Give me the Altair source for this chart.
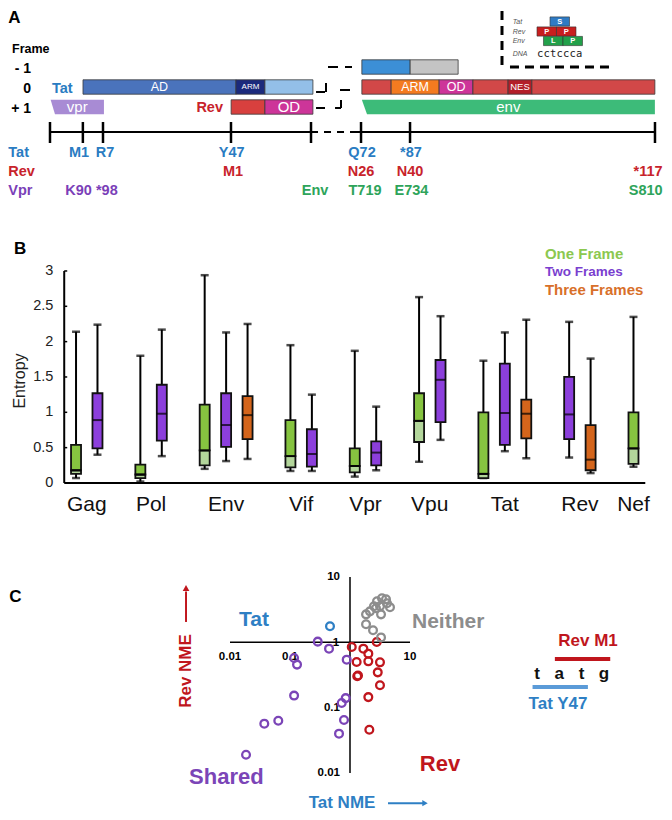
import altair as alt
import pandas as pd

FONT = "Liberation Sans"
W = 656
HA, HB, HC = 192, 320, 292

TAT_C, REV_C, VPR_C, ENV_C = "#2a7cc2", "#c8232b", "#7b3fb8", "#2ea45a"

# ====================== Panel A : gene map (schematic units = Tat codons, right block past break) ======================
seg_part = ["Tat AD", "Tat ARM", "Tat C", "Rev N", "Rev OD", "Tat ex2", "Tat tail", "Rev", "Rev ARM", "Rev OD", "Rev", "Rev NES", "Rev"]
seg_start = [1.0, 48.5, 57.5, 47.0, 57.5, 87.6, 102.6, 87.6, 96.7, 111.6, 122.1, 133.0, 140.4]
seg_end = [48.5, 57.5, 72.4, 57.5, 72.4, 102.6, 117.5, 96.7, 111.6, 122.1, 133.0, 140.4, 178.6]
seg_frame = [0, 0, 0, 1, 1, -1, -1, 0, 0, 0, 0, 0, 0]
seg_label = ["AD", "ARM", "", "", "OD", "", "", "", "ARM", "OD", "", "NES", ""]
part_names = ["Tat AD", "Tat ARM", "Tat C", "Rev N", "Rev OD", "Tat ex2", "Tat tail", "Rev", "Rev ARM", "Rev NES"]
part_colors = ["#4a73bc", "#1b2a7c", "#93bfe8", "#d8403e", "#cd3599", "#3c8fd6", "#c4c4c4", "#d24848", "#f47b20", "#b31e29"]

trap_name = ["vpr", "env"]
trap_frame = [1, 1]
trap_top_start = [-9.05, 87.6]
trap_bottom_start = [-7.7, 89.2]
trap_end = [7.5, 178.6]
trap_colors = ["#a88bd4", "#3dbb79"]

conn_x1 = [77.08, 82.36, 73.37, 76.47, 80.82, 73.37, 81.13, 79.27]
conn_x2 = [80.19, 84.54, 76.16, 76.47, 83.92, 76.16, 81.13, 81.13]
conn_f1 = [-1.0, -1.0, 0.25, -0.2, 0.15, 1.05, 0.65, 1.05]
conn_f2 = [-1.0, -1.0, 0.25, 0.25, 0.15, 1.05, 1.05, 1.05]

line_solid_from = [-9.25, 84.54]
line_solid_to = [71.81, 178.63]
line_dash_from = [71.81]
line_dash_to = [84.54]
tick_u = [-9.25, 0.96, 7.21, 46.96, 71.81, 87.34, 102.56, 178.63]

# residue labels: (text, position, row protein)
res_text = ["M1", "R7", "Y47", "Q72", "*87", "M1", "N26", "N40", "K90 *98", "Env", "T719", "E734"]
res_u = [-0.24, 7.83, 47.18, 87.65, 102.86, 47.58, 87.34, 102.56, 3.64, 73.05, 88.58, 103.0]
res_row = ["Tat", "Tat", "Tat", "Tat", "Tat", "Rev", "Rev", "Rev", "Vpr", "Env", "Env", "Env"]
res_end_text = ["*117", "S810"]
res_end_row = ["Rev", "Env"]
row_names = ["Tat", "Rev", "Vpr"]
row_level = {"Tat": 3.3, "Rev": 4.25, "Vpr": 5.2, "Env": 5.2}
row_colors = {"Tat": TAT_C, "Rev": REV_C, "Vpr": VPR_C, "Env": ENV_C}

frame_text = ["- 1", "0", "+ 1"]
frame_vals = [-1, 0, 1]

# inset (codon overlap)
dna = "cctccca"
codon_prot = ["Tat", "Rev", "Rev", "Env", "Env"]
codon_start = [2, 0, 3, 1, 4]
codon_aa = ["S", "P", "P", "L", "P"]
inset_rows = ["Tat", "Rev", "Env", "DNA"]
inset_row_f = {"Tat": -3.275, "Rev": -2.775, "Env": -2.3, "DNA": -1.65}
inset_colors = {"Tat": "#2f7bc4", "Rev": "#c81e1e", "Env": "#22a04a"}
NT0, NTW = 141.99, 2.0186

xa = alt.Scale(domain=[-22.29, 181.43], nice=False, zero=False)
ya = alt.Scale(domain=[-3.9, 5.7], reverse=True, nice=False, zero=False)


def X(f, sc):
    return alt.X(f"{f}:Q", scale=sc, axis=None)


def Y(f, sc):
    return alt.Y(f"{f}:Q", scale=sc, axis=None)


def text_layer(df, x, y, sx, sy, size, color="#000", align="center", weight="bold",
               angle=0, font=FONT, fstyle="normal", text="t"):
    return alt.Chart(df).mark_text(fontSize=size, font=font, fontWeight=weight, fontStyle=fstyle,
                                   align=align, baseline="middle", angle=angle, color=color).encode(
        x=X(x, sx), y=Y(y, sy), text=f"{text}:N")


segs = pd.DataFrame({"part": seg_part, "s": seg_start, "e": seg_end, "frame": seg_frame, "label": seg_label})
segs["y0"] = segs["frame"] - 0.36
segs["y1"] = segs["frame"] + 0.36
segs["mid"] = (segs["s"] + segs["e"]) / 2

bars_a = alt.Chart(segs).mark_rect(stroke="#3a3a3a", strokeWidth=0.8).encode(
    x=X("s", xa), x2="e:Q", y=Y("y0", ya), y2="y1:Q",
    color=alt.Color("part:N", scale=alt.Scale(domain=part_names, range=part_colors), legend=None))

trap_rows = []
for n, fr, ts, bs, e in zip(trap_name, trap_frame, trap_top_start, trap_bottom_start, trap_end):
    trap_rows.append({"name": n, "f": fr - 0.36, "s": ts, "e": e})
    trap_rows.append({"name": n, "f": fr + 0.36, "s": bs, "e": e})
traps = pd.DataFrame(trap_rows)
trap_layer = alt.Chart(traps).mark_area(orient="horizontal").encode(
    y=Y("f", ya), x=X("s", xa), x2="e:Q", detail="name:N",
    color=alt.Color("name:N", scale=alt.Scale(domain=trap_name, range=trap_colors), legend=None))
trap_lab = pd.DataFrame({"t": trap_name, "u": [(a + b) / 2 for a, b in zip(trap_top_start, trap_end)], "f": trap_frame})

lab_big = text_layer(segs[(segs.label == "OD") & (segs.frame == 1)], "mid", "frame", xa, ya, 15, "white",
                     weight="normal", text="label")
lab_big2 = text_layer(trap_lab, "u", "f", xa, ya, 15, "white", weight="normal")
lab_mid = text_layer(segs[(segs.label == "AD") | ((segs.label.isin(["ARM", "OD"])) & (segs.s > 80))],
                     "mid", "frame", xa, ya, 12.5, "white", weight="normal", text="label")
lab_arm = text_layer(segs[(segs.label == "ARM") & (segs.s < 80)], "mid", "frame", xa, ya, 8, "white",
                     weight="normal", text="label")
lab_nes = text_layer(segs[segs.label == "NES"], "mid", "frame", xa, ya, 9.5, "white", weight="normal", text="label")

conn = pd.DataFrame({"x1": conn_x1, "x2": conn_x2, "f1": conn_f1, "f2": conn_f2})
conn_layer = alt.Chart(conn).mark_rule(color="black", strokeWidth=2).encode(
    x=X("x1", xa), x2="x2:Q", y=Y("f1", ya), y2="f2:Q")

tl_solid = pd.DataFrame({"a": line_solid_from, "b": line_solid_to, "f": 2.25})
tl_dash = pd.DataFrame({"a": line_dash_from, "b": line_dash_to, "f": 2.25})
tl1 = alt.Chart(tl_solid).mark_rule(color="black", strokeWidth=2.2).encode(x=X("a", xa), x2="b:Q", y=Y("f", ya))
tl2 = alt.Chart(tl_dash).mark_rule(color="black", strokeWidth=2.2, strokeDash=[7, 6]).encode(
    x=X("a", xa), x2="b:Q", y=Y("f", ya))
ticks = pd.DataFrame({"u": tick_u, "f0": 1.75, "f1": 2.8})
tl3 = alt.Chart(ticks).mark_rule(color="black", strokeWidth=2.5).encode(x=X("u", xa), y=Y("f0", ya), y2="f1:Q")

# inset
inset_v = pd.DataFrame({"u": [131.12], "f0": [-3.8], "f1": [-1.0]})
inset_h = pd.DataFrame({"a": [133.6], "b": [164.35], "f": [-1.0]})
iv = alt.Chart(inset_v).mark_rule(color="black", strokeWidth=3, strokeDash=[9, 6]).encode(
    x=X("u", xa), y=Y("f0", ya), y2="f1:Q")
ih = alt.Chart(inset_h).mark_rule(color="black", strokeWidth=3, strokeDash=[9, 6]).encode(
    x=X("a", xa), x2="b:Q", y=Y("f", ya))
cod = pd.DataFrame({"prot": codon_prot, "st": codon_start, "aa": codon_aa})
cod["s"] = NT0 + cod["st"] * NTW
cod["e"] = cod["s"] + 3 * NTW
cod["mid"] = (cod["s"] + cod["e"]) / 2
cod["f"] = cod["prot"].map(inset_row_f)
cod["y0"] = cod["f"] - 0.23
cod["y1"] = cod["f"] + 0.23
cod_rect = alt.Chart(cod).mark_rect(stroke="#333", strokeWidth=0.6).encode(
    x=X("s", xa), x2="e:Q", y=Y("y0", ya), y2="y1:Q",
    color=alt.Color("prot:N", scale=alt.Scale(domain=list(inset_colors), range=list(inset_colors.values())), legend=None))
cod_txt = alt.Chart(cod).mark_text(fontSize=7.5, font=FONT, fontWeight="bold", color="white", baseline="middle").encode(
    x=X("mid", xa), y=Y("f", ya), text="aa:N")
ins_lab = pd.DataFrame({"t": inset_rows, "u": 134.44, "f": [inset_row_f[r] for r in inset_rows]})
ins_lab_l = text_layer(ins_lab, "u", "f", xa, ya, 7, "#555", align="left", weight="normal", fstyle="italic")
dna_df = pd.DataFrame({"t": list(dna), "u": [NT0 + (i + 0.5) * NTW for i in range(len(dna))], "f": inset_row_f["DNA"]})
dna_l = text_layer(dna_df, "u", "f", xa, ya, 10.5, "#222", weight="normal", font="DejaVu Sans Mono")

# text labels
a_title = text_layer(pd.DataFrame({"t": ["A"], "u": [-22.2], "f": [-3.45]}), "u", "f", xa, ya, 17, align="left")
frame_hdr = text_layer(pd.DataFrame({"t": ["Frame"], "u": [-21.05], "f": [-1.9]}), "u", "f", xa, ya, 12.5, align="left")
frame_nums = text_layer(pd.DataFrame({"t": frame_text, "u": -15.15, "f": [v + 0.08 for v in frame_vals]}),
                        "u", "f", xa, ya, 14, align="right")
tat0 = text_layer(pd.DataFrame({"t": ["Tat"], "u": [-8.63], "f": [0.08]}), "u", "f", xa, ya, 14.5, TAT_C, align="left")
rev1 = text_layer(pd.DataFrame({"t": ["Rev"], "u": [44.48], "f": [1.05]}), "u", "f", xa, ya, 14.5, REV_C, align="right")

res_layers = []
for prot in ["Tat", "Rev", "Vpr", "Env"]:
    sub = pd.DataFrame({"t": [t for t, r in zip(res_text, res_row) if r == prot],
                        "u": [u for u, r in zip(res_u, res_row) if r == prot]})
    sub["f"] = row_level[prot]
    res_layers.append(text_layer(sub, "u", "f", xa, ya, 14.5, row_colors[prot]))
    ends = [t for t, r in zip(res_end_text, res_end_row) if r == prot]
    if ends:
        e = pd.DataFrame({"t": ends, "u": 181.0, "f": row_level[prot]})
        res_layers.append(text_layer(e, "u", "f", xa, ya, 14.5, row_colors[prot], align="right"))
for prot in row_names:
    e = pd.DataFrame({"t": [prot], "u": [-22.2], "f": [row_level[prot]]})
    res_layers.append(text_layer(e, "u", "f", xa, ya, 14.5, row_colors[prot], align="left"))

panelA = alt.layer(bars_a, trap_layer, lab_big, lab_big2, lab_mid, lab_arm, lab_nes, conn_layer, tl1, tl2, tl3,
                   iv, ih, cod_rect, cod_txt, ins_lab_l, dna_l, a_title, frame_hdr, frame_nums, tat0, rev1,
                   *res_layers).resolve_scale(color="independent").properties(width=W, height=HA)

# ====================== Panel B : entropy box plots ======================
genes = ["Gag", "Pol", "Env", "Vif", "Vpr", "Vpu", "Tat", "Rev", "Nef"]
box_gene = ["Gag", "Gag", "Pol", "Pol", "Env", "Env", "Env", "Vif", "Vif", "Vpr", "Vpr", "Vpu", "Vpu",
            "Tat", "Tat", "Tat", "Rev", "Rev", "Nef"]
box_frames = [1, 2, 1, 2, 1, 2, 3, 1, 2, 1, 2, 1, 2, 1, 2, 3, 2, 3, 1]
box_min = [0.07, 0.40, 0.02, 0.38, 0.20, 0.31, 0.34, 0.17, 0.17, 0.09, 0.18, 0.30, 0.61, 0.07, 0.45, 0.35, 0.36, 0.14, 0.23]
box_q1 = [0.13, 0.49, 0.07, 0.60, 0.25, 0.51, 0.62, 0.22, 0.23, 0.15, 0.25, 0.58, 0.86, 0.07, 0.54, 0.63, 0.62, 0.18, 0.27]
box_med = [0.18, 0.89, 0.12, 0.98, 0.46, 0.82, 0.96, 0.38, 0.41, 0.24, 0.43, 0.88, 1.46, 0.13, 0.99, 0.98, 0.97, 0.33, 0.49]
box_q3 = [0.54, 1.27, 0.26, 1.39, 1.11, 1.27, 1.23, 0.89, 0.76, 0.49, 0.59, 1.27, 1.74, 1.00, 1.69, 1.18, 1.50, 0.82, 1.00]
box_max = [2.14, 2.24, 1.80, 2.17, 2.94, 2.13, 2.25, 1.95, 1.25, 1.87, 1.08, 2.63, 2.36, 1.73, 2.13, 2.31, 2.28, 1.76, 2.35]
frame_names = ["One Frame", "Two Frames", "Three Frames"]
frame_colors = ["#86c440", "#8c3fdc", "#d4651c"]
legend_colors = ["#8cc850", "#7a3fcf", "#d8702a"]
one_lower = "#b3d69b"
y_ticks = [0, 0.5, 1, 1.5, 2, 2.5, 3]

slots, s, prev = [], 0, None
for g in box_gene:
    if prev is not None:
        s += 2 if g != prev else 1
    slots.append(s)
    prev = g

bx = pd.DataFrame({"gene": box_gene, "n": box_frames, "slot": slots, "mn": box_min, "q1": box_q1,
                   "med": box_med, "q3": box_q3, "mx": box_max})
bx["frames"] = bx["n"].map(lambda k: frame_names[k - 1])

xb = alt.Scale(domain=[-2.94, 27.19], nice=False, zero=False)
yb = alt.Scale(domain=[-0.538, 3.99], nice=False, zero=False)
AX = -0.551

axes_b = pd.DataFrame({"a": [AX, AX], "b": [AX, 26.55], "y0": [0, 0], "y1": [3, 0]})
axv = alt.Chart(axes_b.iloc[[0]]).mark_rule(color="black", strokeWidth=2).encode(x=X("a", xb), y=Y("y0", yb), y2="y1:Q")
axh = alt.Chart(axes_b.iloc[[1]]).mark_rule(color="black", strokeWidth=2).encode(x=X("a", xb), x2="b:Q", y=Y("y0", yb))
tk = pd.DataFrame({"a": AX, "b": AX + 0.14, "v": y_ticks[1:]})
axt = alt.Chart(tk).mark_rule(color="black", strokeWidth=1.5).encode(x=X("a", xb), x2="b:Q", y=Y("v", yb))
ylab = pd.DataFrame({"t": [f"{v:g}" for v in y_ticks], "u": -1.057, "v": y_ticks})
ylab_l = text_layer(ylab, "u", "v", xb, yb, 14.5, "#222", align="right", weight="normal")
ytitle = text_layer(pd.DataFrame({"t": ["Entropy"], "u": [-2.6], "v": [1.443]}), "u", "v", xb, yb, 16, "#222",
                    weight="normal", angle=270)
b_title = text_layer(pd.DataFrame({"t": ["B"], "u": [-2.89], "v": [3.311]}), "u", "v", xb, yb, 17, align="left")

whisk = alt.Chart(bx).mark_rule(color="black", strokeWidth=2).encode(x=X("slot", xb), y=Y("mn", yb), y2="mx:Q")
cap_hi = alt.Chart(bx).mark_tick(orient="horizontal", size=8, thickness=2.5, color="black").encode(x=X("slot", xb), y=Y("mx", yb))
cap_lo = alt.Chart(bx).mark_tick(orient="horizontal", size=8, thickness=2.5, color="black").encode(x=X("slot", xb), y=Y("mn", yb))
multi = alt.Chart(bx[bx.n > 1]).mark_bar(size=10, orient="vertical", stroke="#111", strokeWidth=1.8).encode(
    x=X("slot", xb), y=Y("q1", yb), y2="q3:Q",
    color=alt.Color("frames:N", scale=alt.Scale(domain=frame_names, range=frame_colors), legend=None))
one = bx[bx.n == 1]
one_lo = alt.Chart(one).mark_bar(size=10, orient="vertical", stroke="#111", strokeWidth=1.8, color=one_lower).encode(
    x=X("slot", xb), y=Y("q1", yb), y2="med:Q")
one_hi = alt.Chart(one).mark_bar(size=10, orient="vertical", stroke="#111", strokeWidth=1.8, color=frame_colors[0]).encode(
    x=X("slot", xb), y=Y("med", yb), y2="q3:Q")
medl = alt.Chart(bx).mark_tick(orient="horizontal", size=10, thickness=2, color="black").encode(x=X("slot", xb), y=Y("med", yb))

gl = bx.groupby("gene", sort=False)["slot"].mean().reindex(genes).reset_index()
gl.columns = ["t", "u"]
gl["v"] = -0.31
gene_l = text_layer(gl, "u", "v", xb, yb, 21, "#111", weight="normal")

leg_layers = []
for name, col, fs, v in zip(frame_names, legend_colors, [15, 13.5, 15], [3.24, 2.99, 2.73]):
    leg_layers.append(text_layer(pd.DataFrame({"t": [name], "u": [21.87], "v": [v]}), "u", "v", xb, yb, fs, col, align="left"))

panelB = alt.layer(axv, axh, axt, ylab_l, ytitle, b_title, whisk, cap_hi, cap_lo, multi, one_lo, one_hi, medl,
                   gene_l, *leg_layers).resolve_scale(color="independent").properties(width=W, height=HB)

# ====================== Panel C : NME scatter (log-log) ======================
neither_x = [1.85, 2.15, 2.51, 2.82, 3.41, 3.98, 4.14, 4.64, 3.16, 3.29, 1.85, 2.42, 3.29, 2.71]
neither_y = [2.68, 2.98, 3.56, 4.25, 4.72, 4.55, 3.96, 3.44, 3.56, 2.68, 1.89, 1.53, 1.19, 3.32]
tat_x = [0.464]
tat_y = [1.76]
shared_x = [0.290, 0.447, 0.117, 0.131, 0.881, 0.117, 0.848, 0.727, 0.794, 0.656, 0.0638, 0.0373, 0.0185]
shared_y = [1.025, 0.80, 0.575, 0.456, 0.543, 0.153, 0.140, 0.118, 0.0646, 0.040, 0.0632, 0.0569, 0.019]
rev_x = [1.07, 1.67, 2.02, 2.79, 1.29, 2.02, 3.16, 1.32, 2.90, 3.16, 2.02, 2.10, 1.36]
rev_y = [0.847, 0.80, 0.671, 1.01, 0.499, 0.512, 0.494, 0.302, 0.347, 0.22, 0.145, 0.046, 0.31]
groups = ["Tat", "Rev", "Shared", "Neither"]
group_colors = ["#2e7fc4", "#c0161d", "#7b45b7", "#8d8d8d"]

pts = pd.concat([
    pd.DataFrame({"x": tat_x, "y": tat_y, "g": "Tat"}),
    pd.DataFrame({"x": rev_x, "y": rev_y, "g": "Rev"}),
    pd.DataFrame({"x": shared_x, "y": shared_y, "g": "Shared"}),
    pd.DataFrame({"x": neither_x, "y": neither_y, "g": "Neither"}),
])

xc = alt.Scale(type="log", domain=[10 ** -5.7, 10 ** 5.2333], nice=False)
yc = alt.Scale(type="log", domain=[10 ** -2.6123, 10 ** 1.8572], nice=False)

cax_h = alt.Chart(pd.DataFrame({"a": [0.01], "b": [10], "y": [1]})).mark_rule(color="black", strokeWidth=1.5).encode(
    x=X("a", xc), x2="b:Q", y=Y("y", yc))
cax_v = alt.Chart(pd.DataFrame({"x": [1], "a": [0.01], "b": [10]})).mark_rule(color="black", strokeWidth=1.5).encode(
    x=X("x", xc), y=Y("a", yc), y2="b:Q")
xt = pd.DataFrame({"t": ["0.01", "0.1", "10"], "x": [0.01, 0.1, 10], "y": 0.596})
yt = pd.DataFrame({"t": ["10", "0.1", "0.01"], "x": 0.68, "y": [10, 0.1, 0.01]})
xt_l = text_layer(xt, "x", "y", xc, yc, 11.5)
yt_l = text_layer(yt, "x", "y", xc, yc, 11.5, align="right")
one_l = text_layer(pd.DataFrame({"t": ["1"], "x": [0.585], "y": [0.97]}), "x", "y", xc, yc, 11.5)

pts_l = alt.Chart(pts).mark_point(filled=False, size=60, strokeWidth=2.3, opacity=1).encode(
    x=X("x", xc), y=Y("y", yc),
    color=alt.Color("g:N", scale=alt.Scale(domain=groups, range=group_colors), legend=None))

grp_lab = [("Tat", 0.0251, 2.2, 21, "center"), ("Neither", 10.8, 2.05, 21, "left"),
           ("Shared", 0.00869, 0.00869, 22, "center"), ("Rev", 31.6, 0.0137, 22, "center")]
grp_layers = []
for (t, x, y, fs, al), col in zip(grp_lab, [group_colors[0], group_colors[3], group_colors[2], group_colors[1]]):
    grp_layers.append(text_layer(pd.DataFrame({"t": [t], "x": [x], "y": [y]}), "x", "y", xc, yc, fs, col, align=al))
c_title = text_layer(pd.DataFrame({"t": ["C"], "x": [10 ** -5.68], "y": [4.94]}), "x", "y", xc, yc, 17, align="left")

rev_nme = text_layer(pd.DataFrame({"t": ["Rev NME"], "x": [0.00185], "y": [0.364]}), "x", "y", xc, yc, 17,
                     group_colors[1], angle=270)
rev_arrow = alt.Chart(pd.DataFrame({"x": [0.00185], "a": [2.05], "b": [6.0]})).mark_rule(
    color=group_colors[1], strokeWidth=2).encode(x=X("x", xc), y=Y("a", yc), y2="b:Q")
rev_head = alt.Chart(pd.DataFrame({"x": [0.00185], "y": [6.78]})).mark_point(
    shape="triangle-up", filled=True, size=45, color=group_colors[1], opacity=1).encode(x=X("x", xc), y=Y("y", yc))
tat_nme = text_layer(pd.DataFrame({"t": ["Tat NME"], "x": [0.736], "y": [0.00345]}), "x", "y", xc, yc, 17,
                     group_colors[0])
tat_arrow = alt.Chart(pd.DataFrame({"a": [4.3], "b": [16.5], "y": [0.00345]})).mark_rule(
    color=group_colors[0], strokeWidth=2).encode(x=X("a", xc), x2="b:Q", y=Y("y", yc))
tat_head = alt.Chart(pd.DataFrame({"x": [17.8], "y": [0.00345]})).mark_point(
    shape="triangle-right", filled=True, size=40, color=group_colors[0], opacity=1).encode(x=X("x", xc), y=Y("y", yc))

# t a t g overlap annotation (letter index -> position on panel)
nts = ["t", "a", "t", "g"]
NT_LOG0, NT_STEP = 3.117, 0.372
nt_df = pd.DataFrame({"t": nts, "x": [10 ** (NT_LOG0 + i * NT_STEP) for i in range(len(nts))], "y": 0.327})
nt_l = text_layer(nt_df, "x", "y", xc, yc, 17, "#111")
rev_codon = [1, 3]
tat_codon = [0, 2]
cb = pd.DataFrame({
    "a": [10 ** (NT_LOG0 + (rev_codon[0] - 0.2) * NT_STEP), 10 ** (NT_LOG0 + (tat_codon[0] - 0.2) * NT_STEP)],
    "b": [10 ** (NT_LOG0 + (rev_codon[1] + 0.28) * NT_STEP), 10 ** (NT_LOG0 + (tat_codon[1] + 0.28) * NT_STEP)],
    "y": [0.556, 0.207], "g": ["Rev", "Tat"]})
cb_l = alt.Chart(cb).mark_rule(strokeWidth=4).encode(
    x=X("a", xc), x2="b:Q", y=Y("y", yc),
    color=alt.Color("g:N", scale=alt.Scale(domain=["Rev", "Tat"], range=["#c0161d", "#5b9bd8"]), legend=None))
revm1 = text_layer(pd.DataFrame({"t": ["Rev M1"], "x": [10 ** 3.967], "y": [1.047]}), "x", "y", xc, yc, 17, group_colors[1])
taty47 = text_layer(pd.DataFrame({"t": ["Tat Y47"], "x": [10 ** 3.467], "y": [0.1138]}), "x", "y", xc, yc, 17, group_colors[0])

panelC = alt.layer(cax_h, cax_v, xt_l, yt_l, one_l, pts_l, *grp_layers, c_title, rev_nme, rev_arrow, rev_head,
                   tat_nme, tat_arrow, tat_head, nt_l, cb_l, revm1, taty47).resolve_scale(
    color="independent").properties(width=W, height=HC)

chart = alt.vconcat(panelA, panelB, panelC, spacing=0, bounds="flush").resolve_scale(
    x="independent", y="independent", color="independent").properties(padding=0).configure(
    font=FONT, view=alt.ViewConfig(stroke=None))

chart.save("out.html", embed_options={"renderer": "svg", "actions": False})
